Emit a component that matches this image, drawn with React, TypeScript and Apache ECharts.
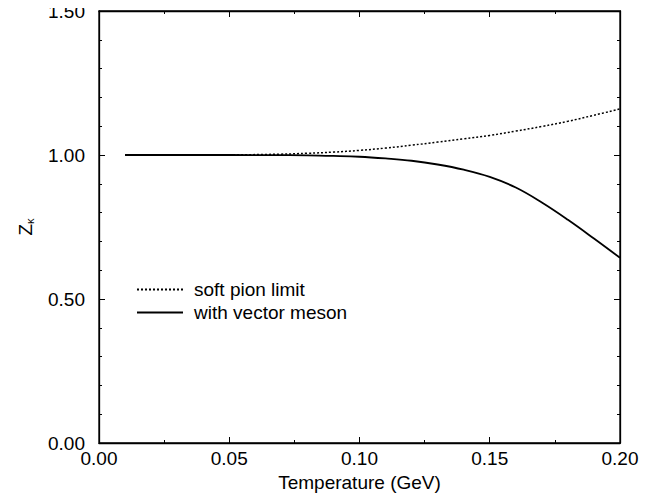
import React, { useEffect, useRef } from "react";
import * as echarts from "echarts";

const temps = [0.01, 0.03, 0.05, 0.07, 0.08, 0.09, 0.10, 0.11, 0.12, 0.13, 0.14, 0.15, 0.16, 0.17, 0.18, 0.19, 0.20];
const softPion = [1.0, 1.0, 1.0005, 1.003, 1.006, 1.010, 1.016, 1.024, 1.034, 1.045, 1.056, 1.068, 1.083, 1.099, 1.117, 1.138, 1.160];
const vectorMeson = [1.0, 1.0, 1.0, 0.9995, 0.999, 0.997, 0.994, 0.988, 0.980, 0.967, 0.949, 0.924, 0.887, 0.835, 0.775, 0.710, 0.643];
const seriesNames = ["soft pion limit", "with vector meson"];

const FONT = "'Liberation Sans', Arial, Helvetica, sans-serif";

export default function App() {
  const ref = useRef<HTMLDivElement>(null);
  useEffect(() => {
    const chart = echarts.init(ref.current!, null, { renderer: "svg" });
    const mkLine = () => ({ show: true, onZero: false, lineStyle: { color: "#000", width: 1.3 } });
    const mkTick = () => ({ show: true, inside: true, length: 6, lineStyle: { color: "#000", width: 1 } });
    const mkMinor = (n: number) => ({ show: true, splitNumber: n, length: 3, lineStyle: { color: "#000", width: 1 } });
    chart.setOption({
      animation: false,
      grid: {
        left: 99,
        right: 47,
        top: 11,
        bottom: 57,
        containLabel: false,
        outerBoundsMode: "none",
        show: true,
        borderColor: "#000",
        borderWidth: 1.3,
      },
      legend: {
        orient: "vertical",
        left: 131,
        top: 275,
        itemWidth: 46,
        itemHeight: 14,
        itemGap: 4,
        itemStyle: { opacity: 0 },
        textStyle: { color: "#000", fontSize: 19, fontFamily: FONT, padding: [0, 0, 0, 6] },
        data: seriesNames,
      },
      xAxis: [
        {
          type: "value",
          min: 0,
          max: 0.2,
          interval: 0.05,
          name: "Temperature (GeV)",
          nameLocation: "middle",
          nameGap: 31,
          nameTextStyle: { color: "#000", fontSize: 19, fontFamily: FONT, lineHeight: 16 },
          axisLine: mkLine(),
          axisTick: mkTick(),
          minorTick: mkMinor(2),
          splitLine: { show: false },
          axisLabel: { color: "#000", fontSize: 19, lineHeight: 16, fontFamily: FONT, margin: 7, formatter: (v: number) => v.toFixed(2) },
        },
        {
          type: "value",
          position: "top",
          min: 0,
          max: 0.2,
          interval: 0.05,
          axisLine: mkLine(),
          axisTick: mkTick(),
          minorTick: mkMinor(2),
          splitLine: { show: false },
          axisLabel: { show: false },
        },
      ],
      yAxis: [
        {
          type: "value",
          min: 0,
          max: 1.5,
          interval: 0.5,
          name: "{z|Z}{k|κ}",
          nameLocation: "middle",
          nameGap: 64,
          nameRotate: 90,
          nameTextStyle: {
            rich: {
              z: { color: "#000", fontSize: 19, fontFamily: FONT },
              k: { color: "#000", fontSize: 11, fontFamily: FONT, verticalAlign: "bottom", padding: [8, 0, 0, 0] },
            },
          },
          axisLine: mkLine(),
          axisTick: mkTick(),
          minorTick: mkMinor(5),
          splitLine: { show: false },
          axisLabel: { color: "#000", fontSize: 19, lineHeight: 14, fontFamily: FONT, margin: 14, formatter: (v: number) => v.toFixed(2) },
        },
        {
          type: "value",
          position: "right",
          min: 0,
          max: 1.5,
          interval: 0.5,
          axisLine: mkLine(),
          axisTick: mkTick(),
          minorTick: mkMinor(5),
          splitLine: { show: false },
          axisLabel: { show: false },
        },
      ],
      series: [
        {
          name: seriesNames[0],
          type: "line",
          smooth: 0.4,
          symbol: "none",
          data: temps.map((t, i) => [t, softPion[i]]),
          lineStyle: { color: "#000", width: 1.5, type: [2, 2] },
          itemStyle: { color: "#000" },
        },
        {
          name: seriesNames[1],
          type: "line",
          smooth: 0.4,
          symbol: "none",
          data: temps.map((t, i) => [t, vectorMeson[i]]),
          lineStyle: { color: "#000", width: 1.8, type: "solid" },
          itemStyle: { color: "#000" },
        },
        {
          name: "mirror",
          type: "line",
          symbol: "none",
          xAxisIndex: 1,
          yAxisIndex: 1,
          silent: true,
          data: [],
        },
      ],
    });
    return () => chart.dispose();
  }, []);
  return <div ref={ref} style={{ width: 667, height: 500, margin: "-8px 0 0 -8px" }} />;
}
